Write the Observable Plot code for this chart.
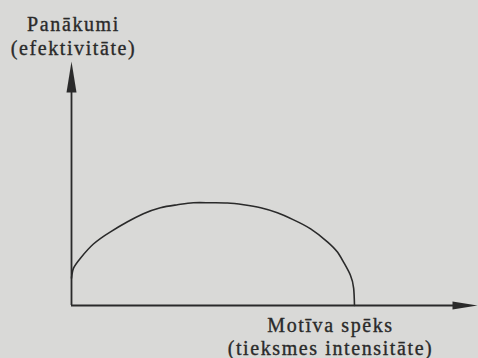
<!DOCTYPE html>
<html>
<head>
<meta charset="utf-8">
<script src="https://cdn.jsdelivr.net/npm/d3@7"></script>
<script src="https://cdn.jsdelivr.net/npm/@observablehq/plot@0.6"></script>
<style>
  html, body { margin: 0; padding: 0; background: #d9d9d7; }
  svg { display: block; }
  svg text { letter-spacing: 1.6px; }
</style>
</head>
<body>
<div id="chart"></div>
<script>
// Curve: motive strength (x) vs. performance / effectiveness (y), arbitrary units
const motive = [0, 0.05, 0.22, 0.54, 0.96, 1.38, 1.77, 2.19, 2.61, 3.00, 3.42, 3.84, 4.24, 4.66, 5.07, 5.47, 5.89, 6.31, 6.55, 6.70, 6.87, 6.95, 6.97];
const performance = [1.12, 1.53, 1.94, 2.52, 3.02, 3.43, 3.76, 4.01, 4.13, 4.21, 4.21, 4.2, 4.13, 4.01, 3.80, 3.51, 3.14, 2.60, 2.19, 1.78, 1.24, 0.70, 0.0];
const xMax = 10;
const yMax = 10;
const yLabel = "Panākumi\n(efektivitāte)";
const xLabel = "Motīva spēks\n(tieksmes intensitāte)";

const curve = motive.map((m, i) => ({x: m, y: performance[i]}));
const ink = "#2a2a2a";

const arrowHead = (len, half) => ({
  draw(ctx) {
    ctx.moveTo(0, 0);
    ctx.lineTo(half, len);
    ctx.lineTo(-half, len);
    ctx.closePath();
  }
});

const chart = Plot.plot({
  width: 478,
  height: 358,
  marginLeft: 71,
  marginRight: 1,
  marginTop: 61,
  marginBottom: 53,
  style: {background: "#d9d9d7", fontFamily: "'Liberation Serif', serif", overflow: "visible"},
  x: {domain: [0, xMax], axis: null},
  y: {domain: [0, yMax], axis: null},
  marks: [
    Plot.ruleX([0], {y1: 0, y2: yMax * 0.9, stroke: ink, strokeWidth: 1.8}),
    Plot.ruleY([0], {x1: 0, x2: xMax * 0.97, stroke: ink, strokeWidth: 1.8}),
    Plot.dot([{x: 0, y: yMax}], {x: "x", y: "y", symbol: arrowHead(31, 5), fill: ink, stroke: null}),
    Plot.dot([{x: xMax, y: 0}], {x: "x", y: "y", symbol: arrowHead(25, 4), rotate: 90, fill: ink, stroke: null}),
    Plot.line(curve, {x: "x", y: "y", curve: "natural", stroke: ink, strokeWidth: 1.6}),
    Plot.text([yLabel], {x: 0, y: yMax, text: d => d, dx: 2, dy: -26, fontSize: 20, lineHeight: 1.2, fill: ink, stroke: ink, strokeWidth: 0.35, textAnchor: "middle"}),
    Plot.text([xLabel], {x: 6.38, y: 0, text: d => d, dy: 30.5, fontSize: 20, lineHeight: 1.15, fill: ink, stroke: ink, strokeWidth: 0.35, textAnchor: "middle"})
  ]
});
document.getElementById("chart").append(chart);
</script>
</body>
</html>
